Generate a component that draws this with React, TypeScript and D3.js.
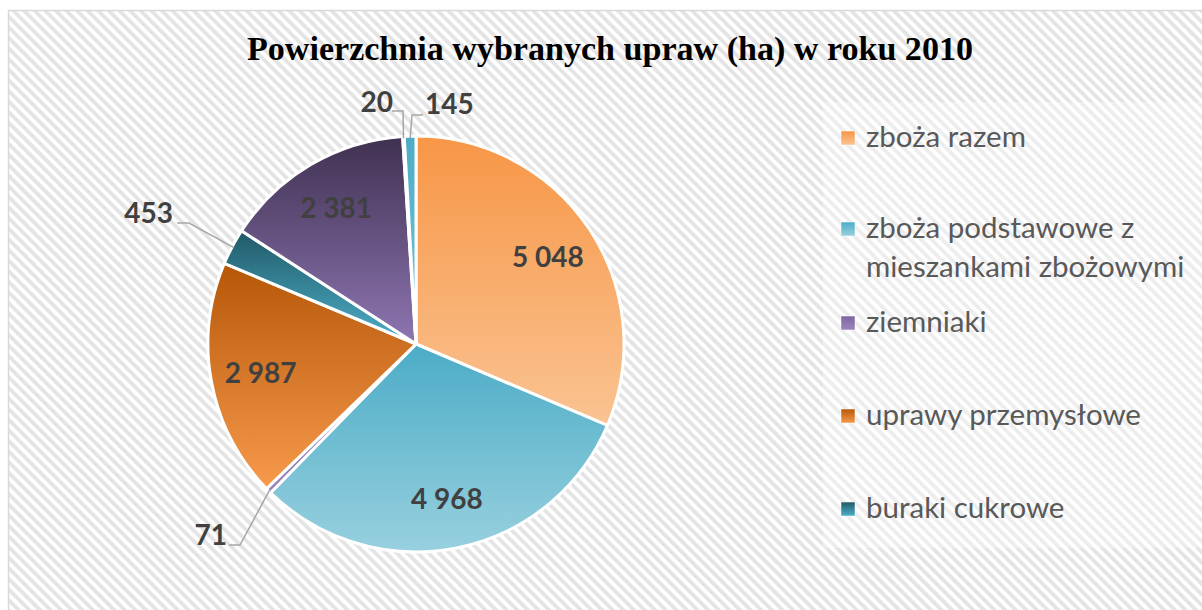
import React from "react";
import * as d3 from "d3";

const title = "Powierzchnia wybranych upraw (ha) w roku 2010";
const categories = [
  "zboża razem",
  "zboża podstawowe z mieszankami zbożowymi",
  "ziemniaki",
  "uprawy przemysłowe",
  "buraki cukrowe",
  "rzepak i rzepik",
  "strączkowe jadalne",
  "pastewne",
];
const values = [5048, 4968, 71, 2987, 453, 2381, 20, 145];
const legendLines = [
  ["zboża razem"],
  ["zboża podstawowe z", "mieszankami zbożowymi"],
  ["ziemniaki"],
  ["uprawy przemysłowe"],
  ["buraki cukrowe"],
];
const gradTop = ["#F79646", "#4BACC6", "#8064A2", "#B65708", "#215968", "#3F3151", "#8064A2", "#4BACC6"];
const gradBottom = ["#FAC392", "#98D0DF", "#9B85BA", "#F79A4C", "#4DB0C9", "#8E76B2", "#9B85BA", "#7CC4D6"];

const W = 1202;
const H = 610;
const cx = 416;
const cy = 344;
const R = 208;
const fmt = d3.formatLocale({ decimal: ",", thousands: " ", grouping: [3], currency: ["", " zł"] }).format(",d");

const outside: Record<number, { pts: [number, number][]; lx: number; ly: number; anchor: string }> = {
  2: { pts: [[240, 545], [229, 545]], lx: 227, ly: 545, anchor: "end" },
  4: { pts: [[189, 223], [177, 223]], lx: 173, ly: 223, anchor: "end" },
  6: { pts: [[403, 111], [392, 111]], lx: 393, ly: 112, anchor: "end" },
  7: { pts: [[412, 115], [423, 115]], lx: 425, ly: 114, anchor: "start" },
};

export default function App() {
  const pie = d3.pie<number>().sort(null).value((d) => d)(values);
  const arc = d3.arc<d3.PieArcDatum<number>>().innerRadius(0).outerRadius(R);
  const labelArc = d3.arc<d3.PieArcDatum<number>>().innerRadius(158).outerRadius(158);
  const edgeArc = d3.arc<d3.PieArcDatum<number>>().innerRadius(R - 2).outerRadius(R - 2);

  return (
    <svg width={W} height={H} style={{ position: "absolute", left: 0, top: 0 }}>
      <defs>
        <pattern id="stripes" patternUnits="userSpaceOnUse" width={7.5} height={7.5} patternTransform="rotate(-45)">
          <rect width={7.5} height={7.5} fill="#ffffff" />
          <rect width={3.8} height={7.5} fill="#e4e4e4" />
        </pattern>
        {values.map((_, i) => (
          <linearGradient key={i} id={`g${i}`} x1="0" y1="0" x2="0" y2="1">
            <stop offset="0" stopColor={gradTop[i]} />
            <stop offset="1" stopColor={gradBottom[i]} />
          </linearGradient>
        ))}
      </defs>
      <rect x={0} y={0} width={W} height={H} fill="#ffffff" />
      <rect x={8.5} y={10.5} width={1200} height={610} fill="url(#stripes)" stroke="#d9d9d9" strokeWidth={1.5} />
      <rect x={823} y={102} width={380} height={446} fill="#ffffff" opacity={0.35} />
      <text
        x={610}
        y={60}
        textAnchor="middle"
        fontFamily="'Liberation Serif', serif"
        fontWeight="bold"
        fontSize={33}
        fill="#000000"
        textLength={726}
        lengthAdjust="spacingAndGlyphs"
      >
        {title}
      </text>
      <g transform={`translate(${cx},${cy})`}>
        {pie.map((d, i) => (
          <path key={categories[i]} d={arc(d) || ""} fill={`url(#g${i})`} stroke="#ffffff" strokeWidth={3} strokeLinejoin="round" />
        ))}
      </g>
      {pie.map((d, i) => {
        const o = outside[i];
        if (o) {
          const [ex, ey] = edgeArc.centroid(d);
          const pts = [[ex + cx, ey + cy], ...o.pts];
          return (
            <g key={`l${i}`}>
              <polyline points={pts.map((p) => p.join(",")).join(" ")} fill="none" stroke="#a6a6a6" strokeWidth={1.5} />
              <text
                x={o.lx}
                y={o.ly}
                textAnchor={o.anchor}
                fontFamily="Lato, sans-serif"
                fontWeight="bold"
                fontSize={28}
                fill="#404040"
              >
                {fmt(values[i])}
              </text>
            </g>
          );
        }
        const [lx, ly] = labelArc.centroid(d);
        return (
          <text
            key={`l${i}`}
            x={lx + cx}
            y={ly + cy}
            dy="0.36em"
            textAnchor="middle"
            fontFamily="Lato, sans-serif"
            fontWeight="bold"
            fontSize={28}
            fill="#404040"
          >
            {fmt(values[i])}
          </text>
        );
      })}
      {legendLines.map((lines, i) => {
        const ys = [147, 238, 332, 425, 518];
        const y = ys[i];
        return (
          <g key={`lg${i}`}>
            <rect x={841} y={y - 16} width={14} height={14} fill={`url(#g${i})`} stroke="#ffffff" strokeWidth={0.5} />
            {lines.map((t, j) => (
              <text key={j} x={866} y={y + j * 39} fontFamily="Lato, sans-serif" fontSize={29.5} fill="#595959">
                {t}
              </text>
            ))}
          </g>
        );
      })}
    </svg>
  );
}
